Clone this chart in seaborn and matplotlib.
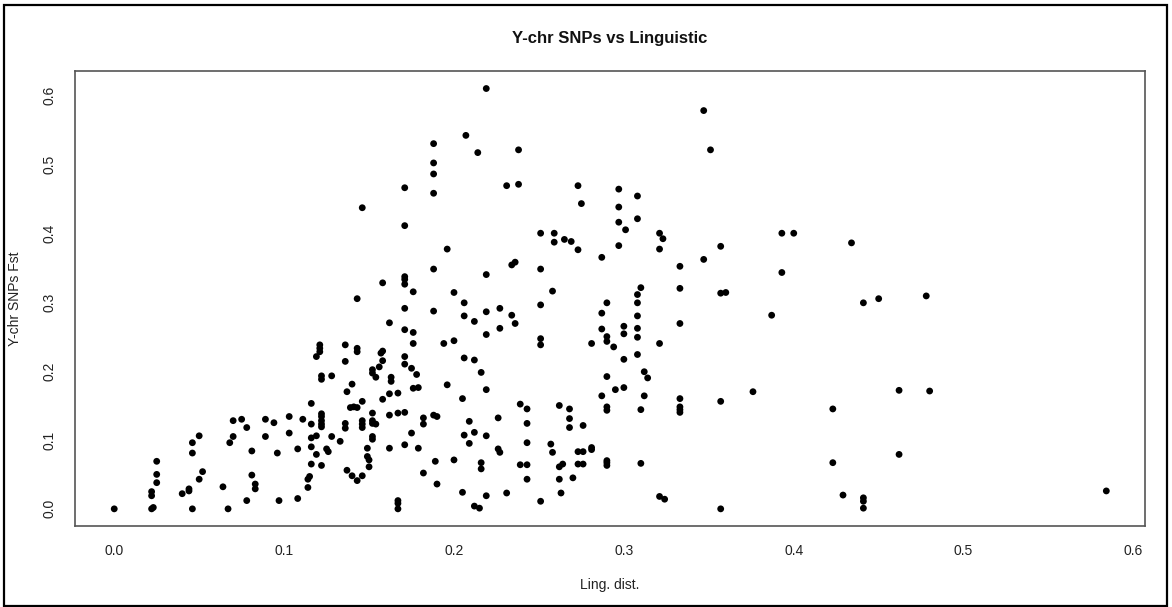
import matplotlib
matplotlib.use("Agg")
import matplotlib.pyplot as plt
import seaborn as sns
import pandas as pd
from matplotlib.patches import Rectangle

# Linguistic distance between population pairs
ling_dist = [
    0.000, 0.022, 0.023, 0.022, 0.022, 0.025, 0.025, 0.025, 0.040, 0.044,
    0.044, 0.046, 0.050, 0.052, 0.046, 0.046, 0.050, 0.064, 0.067, 0.068,
    0.070, 0.070, 0.075, 0.078, 0.078, 0.081, 0.081, 0.083, 0.083, 0.089,
    0.089,
    0.094, 0.096, 0.097, 0.103, 0.103, 0.108, 0.108, 0.111, 0.114, 0.115,
    0.114, 0.116, 0.116, 0.116, 0.119, 0.116, 0.116, 0.119, 0.122, 0.122,
    0.122, 0.122, 0.122, 0.122, 0.121, 0.121, 0.121, 0.119, 0.122, 0.122,
    0.128, 0.125, 0.126, 0.128, 0.133, 0.136, 0.136, 0.136, 0.136, 0.137,
    0.137, 0.140, 0.139, 0.141, 0.140, 0.143, 0.143, 0.143, 0.143, 0.143,
    0.146, 0.146, 0.146, 0.146, 0.146, 0.149, 0.149, 0.150, 0.150, 0.152,
    0.152, 0.154, 0.152, 0.152, 0.152, 0.154, 0.152, 0.152, 0.156, 0.157,
    0.158, 0.158, 0.158, 0.162, 0.163, 0.163, 0.162, 0.162, 0.162, 0.167,
    0.167, 0.167, 0.167, 0.167, 0.171, 0.171, 0.171, 0.171, 0.171, 0.171,
    0.176, 0.176, 0.176, 0.175, 0.178, 0.176, 0.179, 0.175, 0.179, 0.182,
    0.182, 0.182,
    0.171, 0.146, 0.171, 0.158, 0.171, 0.171, 0.171,
    0.200, 0.188, 0.206, 0.206, 0.212, 0.219, 0.227, 0.219, 0.227, 0.234,
    0.236, 0.258, 0.251, 0.251, 0.251, 0.194, 0.200, 0.206, 0.212, 0.216,
    0.219, 0.196, 0.205, 0.239, 0.243, 0.243, 0.243, 0.243, 0.243, 0.239,
    0.226, 0.226, 0.227, 0.209, 0.206, 0.212, 0.209, 0.219, 0.216, 0.216,
    0.200, 0.189, 0.190, 0.188, 0.190, 0.205, 0.212, 0.215, 0.219, 0.231,
    0.251, 0.257, 0.258, 0.262, 0.268, 0.268, 0.268, 0.276, 0.273, 0.276,
    0.273, 0.276, 0.262, 0.264, 0.262, 0.270, 0.263,
    0.290, 0.287, 0.287, 0.290, 0.290, 0.294, 0.281, 0.300, 0.300, 0.308,
    0.308, 0.308, 0.308, 0.308, 0.300, 0.321, 0.333, 0.312, 0.314, 0.290,
    0.300, 0.295, 0.287, 0.290, 0.290, 0.312, 0.310, 0.333, 0.333, 0.333,
    0.333, 0.357, 0.281, 0.281, 0.290, 0.290, 0.290, 0.310, 0.321, 0.324,
    0.357,
    0.387, 0.441, 0.450, 0.478, 0.376, 0.462, 0.480, 0.423, 0.462, 0.423,
    0.429, 0.441, 0.441, 0.441,
    0.584,
    0.219, 0.207, 0.188, 0.214, 0.238, 0.188, 0.188, 0.188, 0.231, 0.238,
    0.273, 0.275, 0.251, 0.259, 0.259, 0.265, 0.269, 0.273, 0.196, 0.188,
    0.219, 0.234, 0.236, 0.251,
    0.347, 0.351, 0.297, 0.308, 0.297, 0.308, 0.297, 0.301, 0.297, 0.287,
    0.321, 0.323, 0.321, 0.333, 0.347, 0.357, 0.310, 0.308, 0.333, 0.357,
    0.360,
    0.393, 0.400, 0.434, 0.393,
]

# Y-chromosome SNP Fst for the same pairs
ychr_fst = [
    0.000, 0.000, 0.002, 0.019, 0.025, 0.038, 0.050, 0.069, 0.022, 0.029,
    0.026, 0.000, 0.043, 0.054, 0.081, 0.096, 0.106, 0.032, 0.000, 0.096,
    0.105, 0.128, 0.130, 0.118, 0.012, 0.084, 0.049, 0.036, 0.029, 0.130,
    0.105,
    0.125, 0.081, 0.012, 0.134, 0.110, 0.087, 0.015, 0.130, 0.043, 0.047,
    0.031, 0.153, 0.123, 0.103, 0.106, 0.090, 0.065, 0.079, 0.138, 0.134,
    0.128, 0.123, 0.119, 0.063, 0.238, 0.233, 0.228, 0.221, 0.193, 0.188,
    0.193, 0.087, 0.083, 0.105, 0.098, 0.238, 0.214, 0.124, 0.117, 0.170,
    0.056, 0.181, 0.147, 0.148, 0.048, 0.305, 0.233, 0.228, 0.147, 0.041,
    0.156, 0.128, 0.123, 0.118, 0.048, 0.088, 0.076, 0.071, 0.061, 0.202,
    0.197, 0.191, 0.139, 0.128, 0.124, 0.123, 0.105, 0.101, 0.206, 0.226,
    0.229, 0.215, 0.159, 0.270, 0.191, 0.185, 0.167, 0.136, 0.088, 0.168,
    0.139, 0.012, 0.008, 0.000, 0.291, 0.260, 0.221, 0.210, 0.140, 0.093,
    0.315, 0.256, 0.240, 0.204, 0.195, 0.175, 0.176, 0.110, 0.088, 0.132,
    0.123, 0.052,
    0.466, 0.437, 0.411, 0.328, 0.337, 0.333, 0.326,
    0.314, 0.287, 0.299, 0.280, 0.272, 0.286, 0.291, 0.253, 0.262, 0.281,
    0.269, 0.316, 0.296, 0.247, 0.238, 0.240, 0.244, 0.219, 0.216, 0.198,
    0.173, 0.180, 0.160, 0.152, 0.145, 0.124, 0.096, 0.064, 0.043, 0.064,
    0.132, 0.087, 0.082, 0.127, 0.107, 0.111, 0.095, 0.106, 0.067, 0.058,
    0.071, 0.069, 0.036, 0.136, 0.134, 0.024, 0.004, 0.001, 0.019, 0.023,
    0.011, 0.094, 0.082, 0.150, 0.145, 0.131, 0.118, 0.121, 0.083, 0.083,
    0.065, 0.065, 0.061, 0.065, 0.043, 0.045, 0.023,
    0.299, 0.284, 0.261, 0.250, 0.243, 0.235, 0.240, 0.265, 0.254, 0.299,
    0.280, 0.262, 0.249, 0.224, 0.217, 0.240, 0.269, 0.199, 0.190, 0.192,
    0.176, 0.173, 0.164, 0.148, 0.143, 0.164, 0.144, 0.160, 0.148, 0.144,
    0.140, 0.156, 0.089, 0.086, 0.070, 0.067, 0.063, 0.066, 0.018, 0.014,
    0.000,
    0.281, 0.299, 0.305, 0.309, 0.170, 0.172, 0.171, 0.145, 0.079, 0.067,
    0.020, 0.016, 0.011, 0.001,
    0.026,
    0.610, 0.542, 0.530, 0.517, 0.521, 0.502, 0.486, 0.458, 0.469, 0.471,
    0.469, 0.443, 0.400, 0.400, 0.387, 0.391, 0.388, 0.376, 0.377, 0.348,
    0.340, 0.354, 0.358, 0.348,
    0.578, 0.521, 0.464, 0.454, 0.438, 0.421, 0.416, 0.405, 0.382, 0.365,
    0.400, 0.392, 0.377, 0.352, 0.362, 0.381, 0.321, 0.311, 0.320, 0.313,
    0.314,
    0.400, 0.400, 0.386, 0.343,
]

x_ticks = [0.0, 0.1, 0.2, 0.3, 0.4, 0.5, 0.6]
y_ticks = [0.0, 0.1, 0.2, 0.3, 0.4, 0.5, 0.6]
x_ticklabels = ["0.0", "0.1", "0.2", "0.3", "0.4", "0.5", "0.6"]
y_ticklabels = ["0.0", "0.1", "0.2", "0.3", "0.4", "0.5", "0.6"]

df = pd.DataFrame({"ling": ling_dist, "fst": ychr_fst})

sns.set_theme(style="white")
plt.rcParams["font.family"] = ["Liberation Sans", "DejaVu Sans"]

fig = plt.figure(figsize=(11.72, 6.07), dpi=100)
ax = fig.add_axes([0.0637, 0.134, 0.9133, 0.749])

sns.scatterplot(data=df, x="ling", y="fst", ax=ax, color="black",
                s=24, edgecolor="none", linewidth=0)

# padded ranges like R's default 4% extension
ax.set_xlim(-0.0233, 0.6068)
ax.set_ylim(-0.0244, 0.6354)

ax.set_xticks(x_ticks)
ax.set_xticklabels(x_ticklabels)
ax.set_yticks(y_ticks)
ax.set_yticklabels(y_ticklabels, rotation=90, va="center")

ax.tick_params(axis="both", which="major", direction="out", length=5,
               width=0.9, color="#333333", labelsize=10, labelcolor="#222222")
ax.tick_params(axis="x", pad=8)
ax.tick_params(axis="y", pad=8)

for side in ax.spines.values():
    side.set_visible(True)
    side.set_color("#555555")
    side.set_linewidth(1.2)

ax.set_xlabel("Ling. dist.", fontsize=10, color="#222222")
ax.set_ylabel("Y-chr SNPs Fst", fontsize=10, color="#222222")
ax.xaxis.label.set_va("center")
ax.yaxis.label.set_va("center")
ax.xaxis.set_label_coords(0.5, -0.1295)
ax.yaxis.set_label_coords(-0.0558, 0.5)

ax.set_title("Y-chr SNPs vs Linguistic", fontsize=12, fontweight="bold",
             color="#111111", y=1.071, va="center", pad=0)

# thin black frame around the whole image
fig.patches.append(Rectangle((0.0035, 0.002), 0.9925, 0.990,
                             transform=fig.transFigure, fill=False,
                             edgecolor="black", linewidth=1.6))

fig.savefig("out.png", dpi=100, facecolor="white")
